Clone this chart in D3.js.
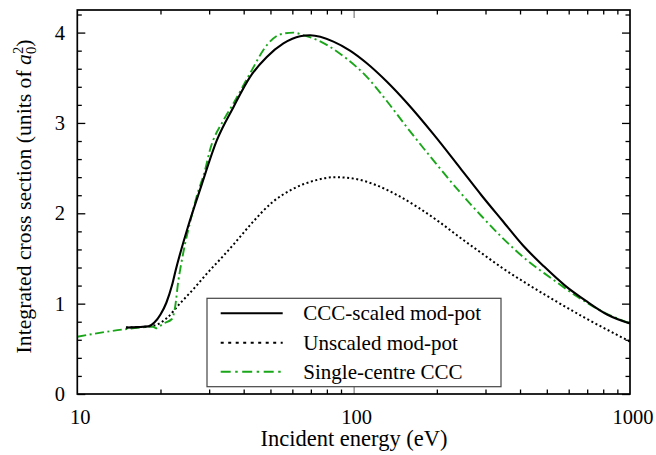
<!DOCTYPE html>
<html>
<head>
<meta charset="utf-8">
<script src="https://cdn.jsdelivr.net/npm/d3@7"></script>
<style>
  html, body { margin: 0; padding: 0; background: #fff; }
  svg { display: block; }
  text { font-family: "Liberation Serif", "DejaVu Serif", serif; fill: #000; }
</style>
</head>
<body>
<svg id="chart" width="656" height="455"></svg>
<script>
// Integrated cross section vs incident energy (log scale)
const energyScaled = [15, 16.5, 18.1, 19.0, 20.0, 21.0, 22.0, 22.7, 25.2, 28, 32, 36.8, 42.2, 48.5, 55.7, 64, 69.6, 84.5, 97, 111.6, 132, 156, 195, 243, 290, 345, 411, 489, 582, 693, 826, 1000];
const csScaled     = [0.735, 0.74, 0.748, 0.79, 0.88, 1.01, 1.20, 1.37, 1.86, 2.29, 2.81, 3.18, 3.51, 3.73, 3.88, 3.96, 3.97, 3.90, 3.80, 3.66, 3.455, 3.22, 2.87, 2.50, 2.20, 1.92, 1.64, 1.41, 1.20, 1.03, 0.88, 0.78];

const energyUnscaled = [15, 16.5, 18.1, 19.5, 21.1, 23.5, 26.3, 30, 33.8, 37, 42.5, 50.7, 60.3, 71.8, 85.5, 101.8, 121, 144, 172, 205, 243, 290, 345, 411, 514, 680, 897, 1000];
const csUnscaled     = [0.735, 0.74, 0.748, 0.77, 0.84, 1.0, 1.16, 1.36, 1.53, 1.665, 1.88, 2.12, 2.27, 2.36, 2.40, 2.38, 2.31, 2.20, 2.06, 1.90, 1.73, 1.56, 1.395, 1.245, 1.065, 0.85, 0.655, 0.58];

const energySingle = [10, 15.1, 18.8, 19.3, 20.5, 22.0, 22.6, 23.2, 23.7, 24.5, 25.5, 27.0, 29.0, 30.2, 33.8, 36.8, 42.2, 48.5, 54.2, 60.5, 66, 73.6, 94.4, 111.6, 132, 156, 195, 243, 290, 345, 424, 514, 643, 780, 1000];
const csSingle     = [0.634, 0.719, 0.745, 0.728, 0.78, 0.83, 0.966, 1.25, 1.42, 1.65, 1.88, 2.18, 2.48, 2.70, 3.03, 3.22, 3.55, 3.86, 3.98, 4.0, 3.97, 3.92, 3.71, 3.51, 3.24, 2.95, 2.58, 2.23, 1.97, 1.73, 1.48, 1.29, 1.08, 0.925, 0.78];

const xMajor = [10, 100, 1000];
const xMinor = [20, 30, 40, 50, 60, 70, 80, 90, 200, 300, 400, 500, 600, 700, 800, 900];
const yMajor = [0, 1, 2, 3, 4];
const yMinor = [0.2, 0.4, 0.6, 0.8, 1.2, 1.4, 1.6, 1.8, 2.2, 2.4, 2.6, 2.8, 3.2, 3.4, 3.6, 3.8, 4.2];

const seriesNames = ["CCC-scaled mod-pot", "Unscaled mod-pot", "Single-centre CCC"];

const frame = { left: 77.3, right: 630, top: 10, bottom: 394 };
const svg = d3.select("#chart");

const x = d3.scaleLog().domain([10, 1000]).range([frame.left, frame.right]);
const y = d3.scaleLinear().domain([0, 4.25]).range([frame.bottom, frame.top]);

const green = "#19a619";
const styles = [
  { stroke: "#000", width: 2.1, dash: null, legendDash: null },
  { stroke: "#000", width: 2.0, dash: "2,2.6", legendDash: "3,4.5" },
  { stroke: green, width: 1.9, dash: "9,3.5,2,3.5", legendDash: "10,4.5,2.5,4.5" }
];

// inward ticks on all four sides
function ticks(axisFn, vals, size, translate, color) {
  const g = svg.append("g").attr("transform", translate)
    .call(axisFn.tickValues(vals).tickSize(size).tickFormat(""));
  g.select(".domain").remove();
  g.selectAll(".tick line").attr("stroke", color || "#000").attr("stroke-width", 1.3);
  return g;
}
ticks(d3.axisBottom(x), xMinor, -4.5, `translate(0,${frame.bottom})`);
ticks(d3.axisBottom(x), [100], -8, `translate(0,${frame.bottom})`, "#888");
ticks(d3.axisTop(x), xMinor, -4.5, `translate(0,${frame.top})`);
ticks(d3.axisTop(x), [100], -8, `translate(0,${frame.top})`, "#888");
ticks(d3.axisLeft(y), yMinor, -4.5, `translate(${frame.left},0)`);
ticks(d3.axisLeft(y), yMajor, -8, `translate(${frame.left},0)`);
ticks(d3.axisRight(y), yMinor, -4.5, `translate(${frame.right},0)`);
ticks(d3.axisRight(y), yMajor, -8, `translate(${frame.right},0)`);

// curves
const line = d3.line().x(d => x(d[0])).y(d => y(d[1])).curve(d3.curveMonotoneX);
const curves = [
  d3.zip(energyScaled, csScaled),
  d3.zip(energyUnscaled, csUnscaled),
  d3.zip(energySingle, csSingle)
];
svg.append("clipPath").attr("id", "clip").append("rect")
  .attr("x", frame.left).attr("y", frame.top)
  .attr("width", frame.right - frame.left).attr("height", frame.bottom - frame.top);
const plot = svg.append("g").attr("clip-path", "url(#clip)");
[1, 2, 0].forEach(i => {
  plot.append("path").datum(curves[i])
    .attr("d", line)
    .attr("fill", "none")
    .attr("stroke", styles[i].stroke)
    .attr("stroke-width", styles[i].width)
    .attr("stroke-dasharray", styles[i].dash)
    .attr("stroke-linejoin", "round");
});

// frame
svg.append("rect")
  .attr("x", frame.left).attr("y", frame.top)
  .attr("width", frame.right - frame.left).attr("height", frame.bottom - frame.top)
  .attr("fill", "none").attr("stroke", "#000").attr("stroke-width", 1.7);

// tick labels
svg.append("g").selectAll("text").data(xMajor).join("text")
  .attr("x", d => x(d) + 3).attr("y", 424)
  .attr("text-anchor", "middle").attr("font-size", 20.5)
  .text(d => d);
svg.append("g").selectAll("text").data(yMajor).join("text")
  .attr("x", 65).attr("y", d => y(d)).attr("dy", "0.35em")
  .attr("text-anchor", "end").attr("font-size", 20.5)
  .text(d => d);

// axis titles
svg.append("text")
  .attr("x", 354).attr("y", 446)
  .attr("text-anchor", "middle").attr("font-size", 22.5)
  .text("Incident energy (eV)");

const yt = svg.append("text")
  .attr("transform", "translate(31,196.5) rotate(-90)")
  .attr("text-anchor", "middle").attr("font-size", 21.7);
yt.append("tspan").text("Integrated cross section (units of ");
yt.append("tspan").attr("font-style", "italic").text("a");
yt.append("tspan").attr("font-size", 14.5).attr("dy", -8.5).text("2");
yt.append("tspan").attr("font-size", 14.5).attr("dx", -7.3).attr("dy", 13.5).text("0");
yt.append("tspan").attr("dy", -5).text(")");

// legend
const lg = svg.append("g");
lg.append("rect")
  .attr("x", 207).attr("y", 298.3).attr("width", 294).attr("height", 88.4)
  .attr("fill", "#fff").attr("stroke", "#444").attr("stroke-width", 1.2);
const rows = [313.3, 342.7, 371.7];
seriesNames.forEach((name, i) => {
  lg.append("line")
    .attr("x1", 220.7).attr("x2", 282.7)
    .attr("y1", rows[i]).attr("y2", rows[i])
    .attr("stroke", styles[i].stroke)
    .attr("stroke-width", styles[i].width)
    .attr("stroke-dasharray", styles[i].legendDash);
  lg.append("text")
    .attr("x", 303.3).attr("y", rows[i]).attr("dy", "0.34em")
    .attr("font-size", 21)
    .text(name);
});
</script>
</body>
</html>
